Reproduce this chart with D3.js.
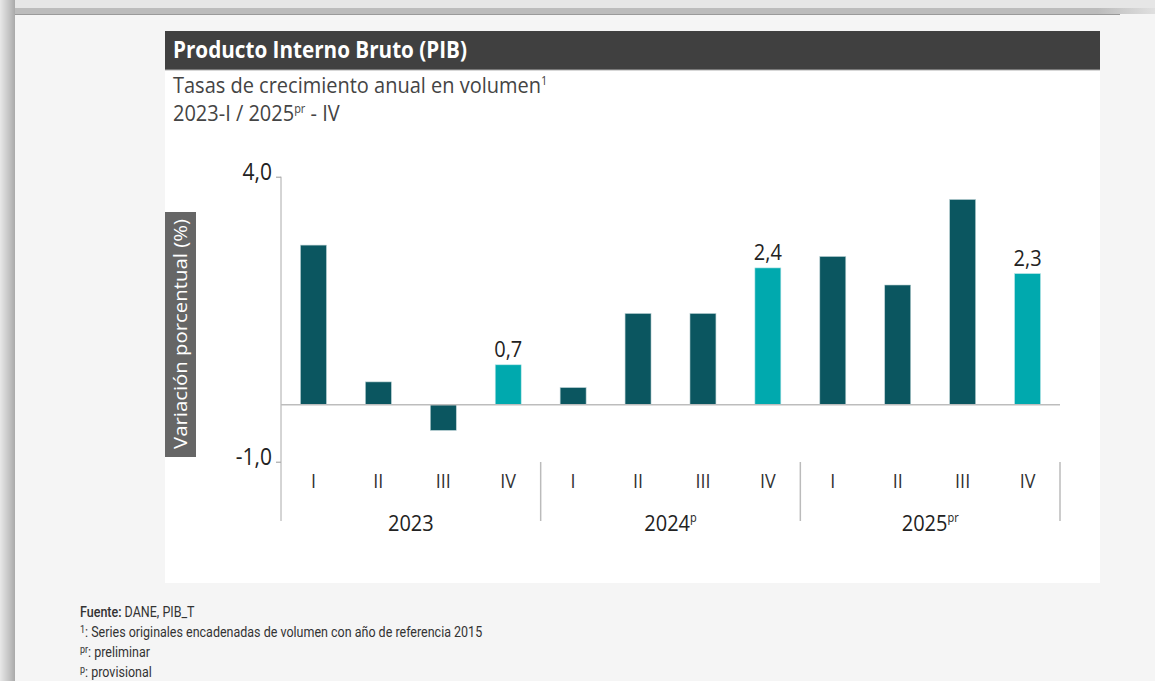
<!DOCTYPE html>
<html>
<head>
<meta charset="utf-8">
<script src="https://cdn.jsdelivr.net/npm/d3@7"></script>
<style>
  body { margin: 0; background: #f5f5f5; }
  svg { display: block; }
</style>
</head>
<body>
<div id="graph"></div>
<script>
// datos del gráfico
const quarters = ["I", "II", "III", "IV", "I", "II", "III", "IV", "I", "II", "III", "IV"];
const values = [2.8, 0.4, -0.45, 0.7, 0.3, 1.6, 1.6, 2.4, 2.6, 2.1, 3.6, 2.3];
const years = ["2023", "2024", "2025"];
const yearSup = ["", "p", "pr"];
const yTicks = [-1, 4];
const notes = [
    {sup: "1", text: ": Series originales encadenadas de volumen con año de referencia 2015"},
    {sup: "pr", text: ": preliminar"},
    {sup: "p", text: ": provisional"}
];

const width = 1155;
const height = 681;
const dark = "#0b5660";
const teal = "#00a9ae";
const sy = 1.12; // la captura original está algo estirada en vertical
const fmt = d => d.toFixed(1).replace(".", ",");
const at = (x, y) => "translate(" + x + "," + y + ") scale(1," + sy + ")";

var svg = d3.select("#graph").append("svg")
    .attr("width", width).attr("height", height);

// marco de la captura
var defs = svg.append("defs");
var lg = defs.append("linearGradient").attr("id", "leftFrame");
lg.append("stop").attr("offset", "0%").attr("stop-color", "#e8e8e8");
lg.append("stop").attr("offset", "60%").attr("stop-color", "#c4c4c4");
lg.append("stop").attr("offset", "100%").attr("stop-color", "#a9a9a9");
var tg = defs.append("linearGradient").attr("id", "topFade");
tg.append("stop").attr("offset", "0%").attr("stop-color", "#bcbcbc");
tg.append("stop").attr("offset", "95%").attr("stop-color", "#bcbcbc");
tg.append("stop").attr("offset", "100%").attr("stop-color", "#e0e0e0");

svg.append("rect").attr("width", width).attr("height", height).attr("fill", "#f5f5f5");
svg.append("rect").attr("x", 0).attr("y", 0).attr("width", width).attr("height", 8).attr("fill", "#e6e6e6");
svg.append("rect").attr("x", 10).attr("y", 8).attr("width", width - 10).attr("height", 6).attr("fill", "url(#topFade)");
svg.append("line").attr("x1", 12).attr("x2", 1120).attr("y1", 14.5).attr("y2", 14.5)
    .attr("stroke", "#9a9a9a");
svg.append("rect").attr("x", 0).attr("y", 0).attr("width", 15).attr("height", height).attr("fill", "url(#leftFrame)");

// panel blanco y barra de título
svg.append("rect").attr("x", 165).attr("y", 70).attr("width", 935).attr("height", 513).attr("fill", "#fff");
svg.append("rect").attr("x", 165).attr("y", 31).attr("width", 935).attr("height", 39).attr("fill", "#404040");
svg.append("line").attr("x1", 165).attr("x2", 1100).attr("y1", 70).attr("y2", 70).attr("stroke", "#b0b0b0");

svg.append("text").attr("transform", at(173, 58))
    .attr("font-family", "Open Sans").attr("font-weight", "bold").attr("font-size", 20)
    .attr("textLength", 294).attr("lengthAdjust", "spacingAndGlyphs")
    .attr("fill", "#fff").text("Producto Interno Bruto (PIB)");

var sub1 = svg.append("text").attr("transform", at(173, 93))
    .attr("font-family", "Open Sans").attr("font-size", 20).attr("fill", "#444");
sub1.append("tspan").text("Tasas de crecimiento anual en volumen");
sub1.append("tspan").attr("font-size", 11).attr("dy", -7).text("1");

var sub2 = svg.append("text").attr("transform", at(173, 121))
    .attr("font-family", "Open Sans").attr("font-size", 20).attr("fill", "#444");
sub2.append("tspan").text("2023-I / 2025");
sub2.append("tspan").attr("font-size", 11).attr("dy", -7).text("pr");
sub2.append("tspan").attr("dy", 7).text(" - IV");

// escalas
var x = d3.scaleBand()
    .domain(d3.range(values.length))
    .range([281, 1060])
    .paddingInner(0.6)
    .paddingOuter(0.3);

var y = d3.scaleLinear()
    .domain([-1, 4])
    .range([461.7, 176.7]);

var g = svg.append("g").attr("font-family", "Open Sans");

// eje y
var yAxis = g.append("g")
    .attr("transform", "translate(281,0)")
    .call(d3.axisLeft(y).tickValues(yTicks).tickSize(5).tickFormat(fmt));
yAxis.select(".domain").remove();
yAxis.selectAll(".tick line").attr("stroke", "#999");
yAxis.selectAll(".tick text")
    .attr("font-family", "Open Sans").attr("font-size", 21).attr("fill", "#222")
    .attr("x", -9).attr("dy", "0.1em")
    .attr("transform", "scale(1," + sy + ")");

g.append("line").attr("x1", 281).attr("x2", 281).attr("y1", y(4)).attr("y2", 521)
    .attr("stroke", "#aaa");

// barras
g.append("g").selectAll("rect")
    .data(values)
    .enter()
    .append("rect")
    .attr("x", (d, i) => x(i))
    .attr("width", x.bandwidth())
    .attr("y", d => y(Math.max(0, d)))
    .attr("height", d => Math.abs(y(d) - y(0)))
    .attr("fill", (d, i) => i % 4 === 3 ? teal : dark)
    .attr("stroke", (d, i) => i % 4 === 3 ? "#b9e6e8" : "#b8cfd2")
    .attr("stroke-width", 0.6);

// línea de cero
g.append("line").attr("x1", 281).attr("x2", 1060).attr("y1", y(0)).attr("y2", y(0))
    .attr("stroke", "#bdbdbd").attr("stroke-width", 1.5);

// etiquetas de datos (cuarto trimestre)
g.append("g").selectAll("text")
    .data(values.map((v, i) => ({v: v, i: i})).filter(d => d.i % 4 === 3))
    .enter()
    .append("text")
    .attr("transform", d => at(x(d.i) + x.bandwidth() / 2, y(d.v) - 8))
    .attr("text-anchor", "middle")
    .attr("font-size", 20).attr("fill", "#222")
    .text(d => fmt(d.v));

// etiquetas de trimestres
g.append("g").selectAll("text")
    .data(quarters)
    .enter()
    .append("text")
    .attr("transform", (d, i) => at(x(i) + x.bandwidth() / 2, 488))
    .attr("text-anchor", "middle")
    .attr("font-size", 18).attr("fill", "#333")
    .text(d => d);

// separadores de años
var step = x.step();
g.append("g").selectAll("line")
    .data(years)
    .enter()
    .append("line")
    .attr("x1", (d, i) => 281 + step * 4 * (i + 1))
    .attr("x2", (d, i) => 281 + step * 4 * (i + 1))
    .attr("y1", 462).attr("y2", 521)
    .attr("stroke", "#bbb").attr("stroke-width", 1.5);

// etiquetas de años
var yearText = g.append("g").selectAll("text")
    .data(years)
    .enter()
    .append("text")
    .attr("transform", (d, i) => at(281 + step * 4 * i + step * 2, 531))
    .attr("text-anchor", "middle")
    .attr("font-size", 20).attr("fill", "#222");
yearText.append("tspan").text(d => d);
yearText.append("tspan").attr("font-size", 11).attr("dy", -8)
    .text((d, i) => yearSup[i]);

// título del eje y
g.append("rect").attr("x", 165).attr("y", 212).attr("width", 31).attr("height", 245)
    .attr("fill", "#666");
g.append("text")
    .attr("transform", "translate(187,334) rotate(-90) scale(1.1,1)")
    .attr("text-anchor", "middle")
    .attr("font-size", 18.5).attr("fill", "#fff")
    .text("Variación porcentual (%)");

// notas
var nt = svg.append("g").attr("font-family", "Roboto").attr("font-size", 12.5).attr("fill", "#333");
var fuente = nt.append("text").attr("transform", at(80, 617));
fuente.append("tspan").attr("font-weight", 500).text("Fuente:");
fuente.append("tspan").text(" DANE, PIB_T");

nt.selectAll(".note")
    .data(notes)
    .enter()
    .append("text")
    .attr("class", "note")
    .attr("transform", (d, i) => at(80, 637 + i * 20))
    .each(function (d) {
        var t = d3.select(this);
        t.append("tspan").attr("font-size", 9).attr("dy", -4).text(d.sup);
        t.append("tspan").attr("dy", 4).text(d.text);
    });
</script>
</body>
</html>
